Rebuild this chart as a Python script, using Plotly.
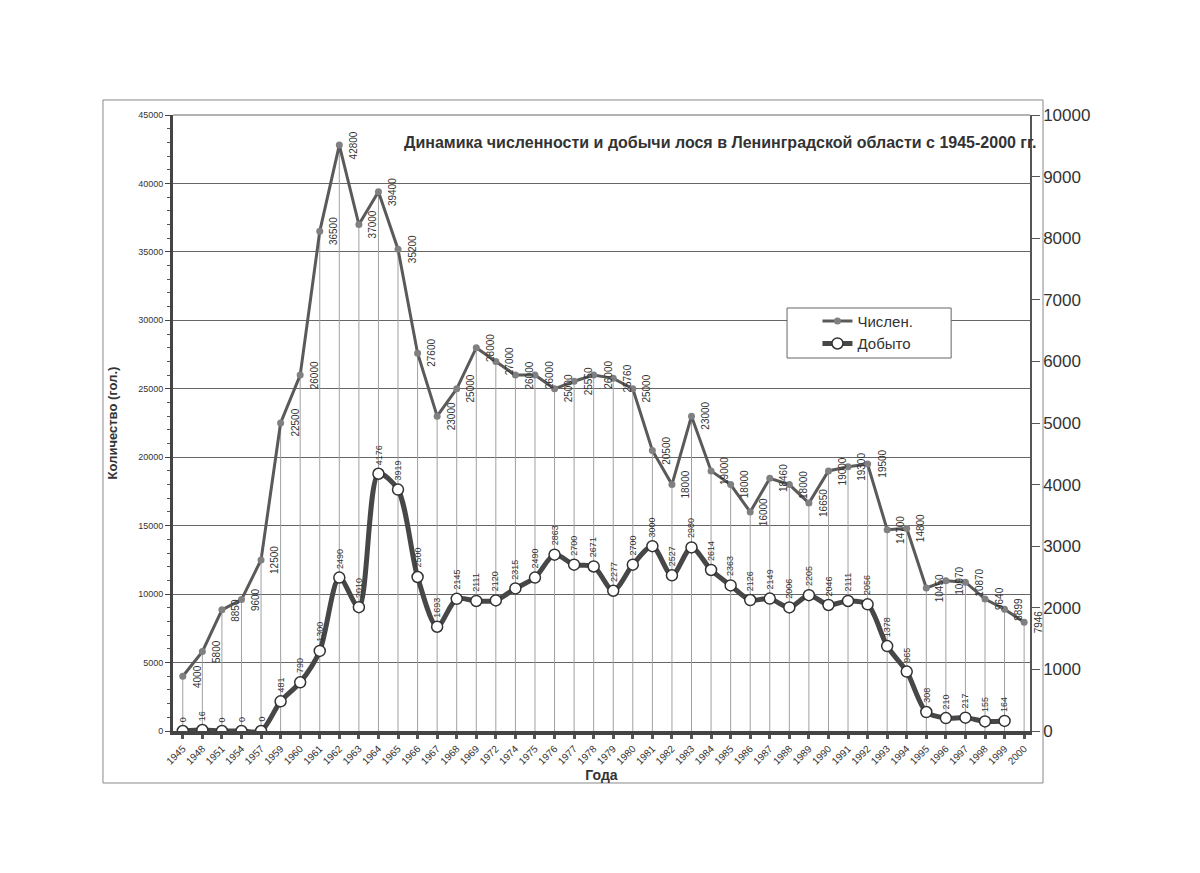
import plotly.graph_objects as go

years = ['1945', '1948', '1951', '1954', '1957', '1959', '1960', '1961', '1962', '1963',
         '1964', '1965', '1966', '1967', '1968', '1969', '1972', '1974', '1975', '1976',
         '1977', '1978', '1979', '1980', '1981', '1982', '1983', '1984', '1985', '1986',
         '1987', '1988', '1989', '1990', '1991', '1992', '1993', '1994', '1995', '1996',
         '1997', '1998', '1999', '2000']

chislen = [4000, 5800, 8850, 9600, 12500, 22500, 26000, 36500, 42800, 37000,
           39400, 35200, 27600, 23000, 25000, 28000, 27000, 26000, 26000, 25000,
           25550, 26000, 25760, 25000, 20500, 18000, 23000, 19000, 18000, 16000,
           18460, 18000, 16650, 19000, 19300, 19500, 14700, 14800, 10450, 10970,
           10870, 9640, 8899, 7946]

dobyto = [0, 16, 0, 0, 0, 481, 790, 1300, 2490, 2010,
          4176, 3919, 2500, 1693, 2145, 2111, 2120, 2315, 2490, 2863,
          2700, 2671, 2277, 2700, 3000, 2527, 2980, 2614, 2363, 2126,
          2149, 2006, 2205, 2046, 2111, 2056, 1378, 965, 308, 210,
          217, 155, 164, None]

left_ticks = [0, 5000, 10000, 15000, 20000, 25000, 30000, 35000, 40000, 45000]
right_ticks = [0, 1000, 2000, 3000, 4000, 5000, 6000, 7000, 8000, 9000, 10000]

title = "Динамика численности и добычи лося в Ленинградской области с 1945-2000 гг."
FONT = "Liberation Sans, Arial, sans-serif"

idx = list(range(len(years)))

# drop lines
dx, dy = [], []
for i, v in zip(idx, chislen):
    dx += [i, i, None]
    dy += [0, v, None]

fig = go.Figure()
fig.add_trace(go.Scatter(x=dx, y=dy, mode='lines', line=dict(color='#a0a0a0', width=1),
                         showlegend=False, hoverinfo='skip'))
fig.add_trace(go.Scatter(x=idx, y=chislen, name='Числен.', mode='lines+markers',
                         line=dict(color='#5a5a5a', width=3),
                         marker=dict(color='#808080', size=7, line=dict(width=0))))
fig.add_trace(go.Scatter(x=idx, y=dobyto, name='Добыто', mode='lines+markers', yaxis='y2',
                         line=dict(color='#474747', width=5, shape='spline', smoothing=0.8),
                         marker=dict(color='white', size=11, line=dict(color='#333333', width=1.5))))

ann = []
for i, v in zip(idx, chislen):
    ann.append(dict(x=i, y=v, xref='x', yref='y', text=str(v), showarrow=False,
                    textangle=-90, xanchor='center', yanchor='middle', xshift=14,
                    font=dict(family=FONT, size=10, color='#333333')))
for i, v in zip(idx, dobyto):
    if v is None:
        continue
    ann.append(dict(x=i, y=v, xref='x', yref='y2', text=str(v), showarrow=False,
                    textangle=-90, xanchor='center', yanchor='bottom', yshift=7,
                    font=dict(family=FONT, size=9, color='#333333')))

ann.append(dict(text="<b>" + title + "</b>", xref='paper', yref='paper', x=0.639, y=0.955,
                showarrow=False, xanchor='center', yanchor='middle',
                font=dict(family=FONT, size=16, color='#333333')))

fig.update_layout(
    width=1200, height=873,
    margin=dict(l=165, r=178, t=107, b=150),
    paper_bgcolor='white', plot_bgcolor='white',
    font=dict(family=FONT, color='#333333'),
    annotations=ann,
    legend=dict(x=0.752, y=0.692, xanchor='left', yanchor='top',
                bgcolor='rgba(0,0,0,0)', borderwidth=0, tracegroupgap=0,
                font=dict(family=FONT, size=15, color='#333333')),
    xaxis=dict(range=[-0.5, 43.3], tickvals=idx, ticktext=years, tickangle=-45,
               tickfont=dict(size=10, color='#333333'),
               showgrid=False, zeroline=False,
               showline=True, linecolor='#444444', linewidth=4,
               ticks='outside', ticklen=4, tickwidth=3, tickcolor='#555555',
               title=dict(text='<b>Года</b>', font=dict(size=14, color='#333333'), standoff=4)),
    yaxis=dict(range=[0, 45000], tickvals=left_ticks, tickformat='d',
               showgrid=True, gridcolor='#666666', gridwidth=1,
               zeroline=False, showline=True, linecolor='#444444', linewidth=3,
               ticks='outside', ticklen=5, tickcolor='#444444',
               minor=dict(dtick=1000, ticks='outside', ticklen=3, tickcolor='#555555', showgrid=False),
               tickfont=dict(size=9, color='#333333'),
               title=dict(text='<b>Количество (гол.)</b>', font=dict(size=13, color='#333333'), standoff=18)),
    yaxis2=dict(range=[0, 10000], tickvals=right_ticks, tickformat='d', overlaying='y', side='right',
                showgrid=False, zeroline=False, showline=True, linecolor='#555555', linewidth=1.5,
                ticks='outside', ticklen=8, tickcolor='#555555',
                tickfont=dict(size=17, color='#333333')),
    shapes=[
        dict(type='rect', xref='paper', yref='paper', x0=-0.0817, x1=1.0152, y0=-0.0844, y1=1.0244,
             line=dict(color='#888888', width=1), layer='below'),
        dict(type='line', xref='paper', yref='paper', x0=0, x1=1, y0=1, y1=1,
             line=dict(color='#666666', width=1)),
        # legend box
        dict(type='rect', xref='paper', yref='paper', x0=0.7165, x1=0.908, y0=0.6055, y1=0.6867,
             fillcolor='white', line=dict(color='#666666', width=1), layer='above'),
    ],
)

fig.write_html("out.html")
